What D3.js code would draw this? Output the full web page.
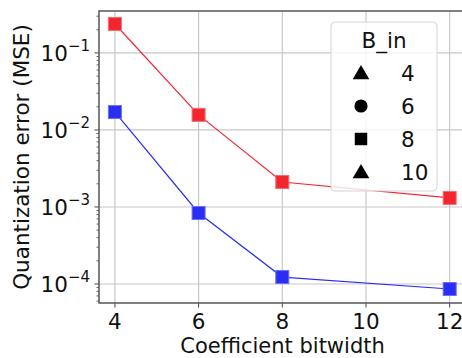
<!DOCTYPE html>
<html>
<head>
<meta charset="utf-8">
<script src="https://cdn.jsdelivr.net/npm/d3@7"></script>
<style>
  body { margin: 0; background: #fff; }
  text { font-family: "DejaVu Sans", sans-serif; fill: #111; }
</style>
</head>
<body>
<svg id="chart" width="462" height="358"></svg>
<script>
// data
const bitwidths = [4, 6, 8, 12];
const mseRed = [0.238, 0.0157, 0.00211, 0.00131];
const mseBlue = [0.0171, 0.000835, 0.000123, 0.000086];
const xTicks = [4, 6, 8, 10, 12];
const yExps = [-1, -2, -3, -4];
const legendLabels = ["4", "6", "8", "10"];
const legendShapes = ["triangle", "circle", "square", "triangle"];

const fs = "21.5px";
const svg = d3.select("#chart");
const margin = {top: 11, right: -4, bottom: 55, left: 99};
const W = 462 - margin.left - margin.right;
const H = 358 - margin.top - margin.bottom;

const g = svg.append("g")
  .attr("transform", "translate(" + margin.left + "," + margin.top + ")");

const x = d3.scaleLinear().domain([3.62, 12.39]).range([0, W]);
const y = d3.scaleLog().domain([Math.pow(10, -4.247), Math.pow(10, -0.455)]).range([H, 0]);

// grid
g.selectAll("line.vgrid").data(xTicks).join("line")
  .attr("x1", d => x(d)).attr("x2", d => x(d))
  .attr("y1", 0).attr("y2", H)
  .attr("stroke", "#c8c8c8").attr("stroke-width", 1.2);
g.selectAll("line.hgrid").data(yExps).join("line")
  .attr("x1", 0).attr("x2", W)
  .attr("y1", d => y(Math.pow(10, d))).attr("y2", d => y(Math.pow(10, d)))
  .attr("stroke", "#c8c8c8").attr("stroke-width", 1.2);

// minor y ticks
const minor = [];
for (let e = -5; e <= 0; e++) {
  for (let k = 2; k <= 9; k++) {
    const v = k * Math.pow(10, e);
    if (v > y.domain()[0] && v < y.domain()[1]) minor.push(v);
  }
}
g.selectAll("line.minor").data(minor).join("line")
  .attr("x1", -2.5).attr("x2", 0)
  .attr("y1", d => y(d)).attr("y2", d => y(d))
  .attr("stroke", "#444").attr("stroke-width", 0.8);

// major ticks
g.selectAll("line.ymaj").data(yExps).join("line")
  .attr("x1", -4.5).attr("x2", 0)
  .attr("y1", d => y(Math.pow(10, d))).attr("y2", d => y(Math.pow(10, d)))
  .attr("stroke", "#444").attr("stroke-width", 1);
g.selectAll("line.xmaj").data(xTicks).join("line")
  .attr("x1", d => x(d)).attr("x2", d => x(d))
  .attr("y1", H).attr("y2", H + 4.5)
  .attr("stroke", "#444").attr("stroke-width", 1);

// tick labels
g.selectAll("text.xt").data(xTicks).join("text")
  .attr("x", d => x(d)).attr("y", H + 25.5)
  .attr("text-anchor", "middle").style("font-size", fs)
  .text(d => d);

const yl = g.selectAll("text.yt").data(yExps).join("text")
  .attr("x", -9).attr("y", d => y(Math.pow(10, d)) + 8)
  .attr("text-anchor", "end").style("font-size", fs);
yl.append("tspan").text("10");
yl.append("tspan").attr("dy", -10).style("font-size", "15px")
  .text(d => "\u2212" + Math.abs(d));

// spines (left, bottom, top)
g.append("path")
  .attr("d", `M${W},0 H0 V${H} H${W}`)
  .attr("fill", "none").attr("stroke", "#555").attr("stroke-width", 1.5);

// series
const line = d3.line().x((d, i) => x(bitwidths[i])).y(d => y(d));
const series = [
  {vals: mseRed, color: "#f2262e", edge: "#f66a70"},
  {vals: mseBlue, color: "#2a2ef5", edge: "#6a6ef8"}
];
series.forEach(s => {
  g.append("path").datum(s.vals).attr("d", line)
    .attr("fill", "none").attr("stroke", s.color).attr("stroke-width", 1.2);
  g.selectAll(null).data(s.vals).join("rect")
    .attr("x", (d, i) => x(bitwidths[i]) - 6.5)
    .attr("y", d => y(d) - 6.5)
    .attr("width", 13).attr("height", 13)
    .attr("fill", s.color).attr("stroke", s.edge).attr("stroke-width", 1);
});

// legend
const leg = svg.append("g").attr("transform", "translate(331,22)");
leg.append("rect").attr("width", 106).attr("height", 169).attr("rx", 4)
  .attr("fill", "#fff").attr("fill-opacity", 0.8)
  .attr("stroke", "#d4d4d4").attr("stroke-width", 1);
leg.append("text").attr("x", 53).attr("y", 26)
  .attr("text-anchor", "middle").style("font-size", fs).text("B_in");
const sym = {triangle: d3.symbolTriangle, circle: d3.symbolCircle, square: d3.symbolSquare};
const symSize = {triangle: 120, circle: 135, square: 155};
legendLabels.forEach((lab, i) => {
  const cy = 51 + i * 33;
  leg.append("path")
    .attr("d", d3.symbol().type(sym[legendShapes[i]]).size(symSize[legendShapes[i]]))
    .attr("transform", "translate(30," + (cy + (legendShapes[i] === "triangle" ? 1.5 : 0)) + ")")
    .attr("fill", "#000");
  leg.append("text").attr("x", 70).attr("y", cy + 8)
    .style("font-size", fs).text(lab);
});

// axis labels
svg.append("text")
  .attr("x", margin.left + W / 2).attr("y", 352.5)
  .attr("text-anchor", "middle").style("font-size", "21px")
  .text("Coefficient bitwidth");
svg.append("text")
  .attr("transform", "translate(29," + (margin.top + H / 2) + ") rotate(-90)")
  .attr("text-anchor", "middle").style("font-size", fs)
  .text("Quantization error (MSE)");
</script>
</body>
</html>
